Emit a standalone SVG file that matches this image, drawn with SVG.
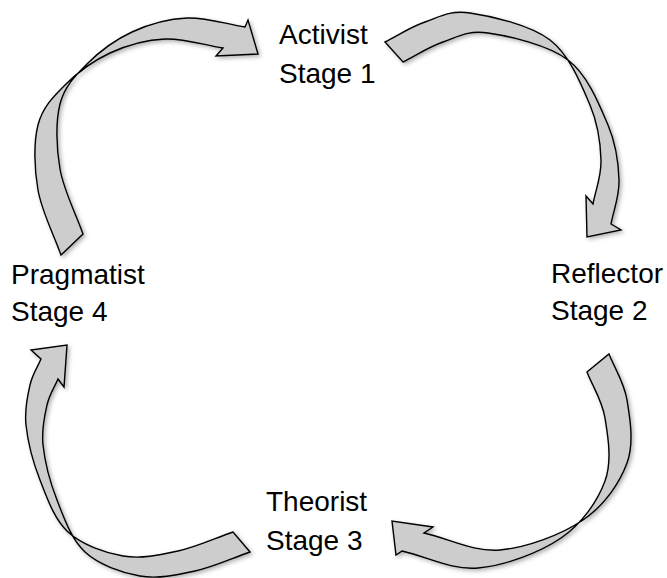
<svg xmlns="http://www.w3.org/2000/svg" width="667" height="578" viewBox="0 0 667 578">
  <defs>
    <filter id="softShadow" x="-10%" y="-10%" width="130%" height="130%">
      <feDropShadow dx="2" dy="2" stdDeviation="2" flood-color="#000" flood-opacity="0.3"/>
    </filter>
  </defs>
  <style>
    .label { font-family: "Liberation Sans", Arial, sans-serif; font-size: 28px; fill: #000; }
    .arrow { fill: #cdcdcd; stroke: #000; stroke-width: 1.4; stroke-linejoin: miter; filter: url(#softShadow); }
  </style>

  <rect width="667" height="578" fill="#fff"/>

  <!-- curved block arrows joining the four stages -->
  <g id="connectors">
    <!-- Stage 4 to Stage 1 -->
    <path id="arrow-4-1" class="arrow" d="M61,255 C53.3,233.3 41.8,211.7 38,190 C34.2,168.3 33.5,142.5 38,125 C42.5,107.5 53,97 65,85 C77,73 93.3,60.7 110,53 C126.7,45.3 146.2,39.8 165,39 C183.8,38.2 203.7,45 223,48 L216,56 L258,54 L248,20 L245,27 C225.7,24 205.8,17.2 187,18 C168.2,18.8 148.7,24.3 132,32 C115.3,39.7 99,52 87,64 C75,76 64.5,86.5 60,104 C55.5,121.5 56.2,147.3 60,169 C63.8,190.7 75.3,212.3 83,234 Z"/>
    <!-- Stage 1 to Stage 2 -->
    <path id="arrow-1-2" class="arrow" d="M385,42 C398.3,35.3 410.8,26.8 425,22 C439.2,17.2 449.2,10 470,13 C490.8,16 530,24.7 550,40 C570,55.3 581.5,85 590,105 C598.5,125 600.5,143.5 601,160 C601.5,176.5 595.7,189.3 593,204 L586,196 L587,237 L621,230 L611,224 C613.7,209.3 619.5,196.5 619,180 C618.5,163.5 616.5,145 608,125 C599.5,105 588,75.3 568,60 C548,44.7 508.8,36 488,33 C467.2,30 457.2,37.2 443,42 C428.8,46.8 416.3,55.3 403,62 Z"/>
    <!-- Stage 2 to Stage 3 -->
    <path id="arrow-2-3" class="arrow" d="M609,354 C615,369.3 624,381.8 627,400 C630,418.2 634.3,443 627,463 C619.7,483 604.2,505.5 583,520 C561.8,534.5 526.5,547.8 500,550 C473.5,552.2 449.3,538.7 424,533 L433,527 L392,521 L396,555 L402,551 C427.3,556.7 451.5,570.2 478,568 C504.5,565.8 539.8,552.5 561,538 C582.2,523.5 597.7,501 605,481 C612.3,461 608,436.2 605,418 C602,399.8 593,387.3 587,372 Z"/>
    <!-- Stage 3 to Stage 4 -->
    <path id="arrow-3-4" class="arrow" d="M250,552 C231.7,558.3 213.3,567 195,571 C176.7,575 158.3,579.2 140,576 C121.7,572.8 98.8,564.7 85,552 C71.2,539.3 64,517.8 57,500 C50,482.2 44.7,460.8 43,445 C41.3,429.2 44.5,416 47,405 C49.5,394 54.3,387.7 58,379 L64,387 L67,345 L31,350 L41,359 C37.3,367.7 32.5,374 30,385 C27.5,396 24.3,409.2 26,425 C27.7,440.8 33,462.2 40,480 C47,497.8 54.2,519.3 68,532 C81.8,544.7 104.7,552.8 123,556 C141.3,559.2 159.7,555 178,551 C196.3,547 214.7,538.3 233,532 Z"/>
  </g>

  <g id="stage1">
    <text class="label" x="279" y="44">Activist</text>
    <text class="label" x="279" y="83">Stage 1</text>
  </g>
  <g id="stage2">
    <text class="label" x="551" y="283">Reflector</text>
    <text class="label" x="551" y="320">Stage 2</text>
  </g>
  <g id="stage3">
    <text class="label" x="266" y="511">Theorist</text>
    <text class="label" x="266" y="550">Stage 3</text>
  </g>
  <g id="stage4">
    <text class="label" x="11" y="284">Pragmatist</text>
    <text class="label" x="11" y="321">Stage 4</text>
  </g>
</svg>
